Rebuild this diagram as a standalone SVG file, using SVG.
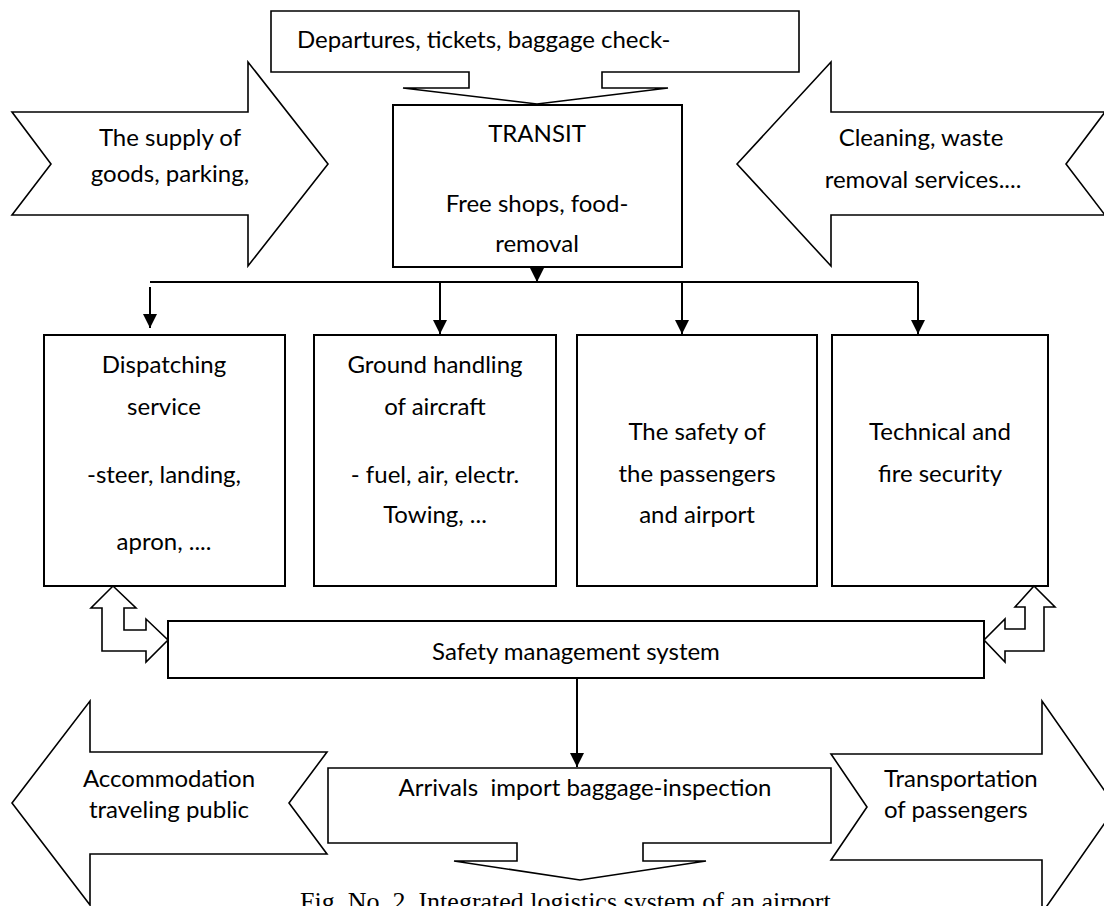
<svg xmlns="http://www.w3.org/2000/svg" width="1104" height="906" viewBox="0 0 1104 906">
<style>
.shape{fill:#fff;stroke:#000;stroke-width:1.6;stroke-linejoin:miter}
.box{fill:#fff;stroke:#000;stroke-width:2}
.t{font-family:Lato,"Liberation Sans",sans-serif;font-size:24px;fill:#000;text-anchor:middle}
.ts{font-family:Lato,"Liberation Sans",sans-serif;font-size:24px;fill:#000;text-anchor:start}
.cap{font-family:"Liberation Serif","Times New Roman",serif;font-size:26px;fill:#000}
.conn{fill:none;stroke:#000;stroke-width:2}
</style>
<defs>
<marker id="ah" markerUnits="userSpaceOnUse" markerWidth="14" markerHeight="14" viewBox="0 0 14 14" refX="14" refY="7" orient="auto">
<path d="M0,0 L14,7 L0,14 z" fill="#000"/>
</marker>
</defs>
<rect width="1104" height="906" fill="#fff"/>

<g id="supply">
<polygon class="shape" points="12,112 248,112 248,62 328,164 248,266 248,215 12,215 51,164"/>
<text class="t" x="170" y="146">The supply of</text>
<text class="t" x="170" y="182">goods, parking,</text>
</g>

<g id="cleaning">
<polygon class="shape" points="737,164 831,62 831,112 1105,112 1066,164 1105,215 831,215 831,266"/>
<text class="t" x="921" y="146">Cleaning, waste</text>
<text class="t" x="923" y="188">removal services....</text>
</g>

<g id="departures">
<polygon class="shape" points="271,11 799,11 799,72 602,72 602,88 668,88 537,104 403,88 469,88 469,72 271,72"/>
<text class="ts" x="297" y="48">Departures, tickets, baggage check-</text>
</g>

<g id="transit">
<rect class="box" x="393" y="105" width="289" height="162"/>
<text class="t" x="537" y="142">TRANSIT</text>
<text class="t" x="537" y="212">Free shops, food-</text>
<text class="t" x="537" y="252">removal</text>
</g>

<g id="dispatching">
<rect class="box" x="44" y="335" width="241" height="251"/>
<text class="t" x="164" y="373">Dispatching</text>
<text class="t" x="164" y="415">service</text>
<text class="t" x="164" y="483">-steer, landing,</text>
<text class="t" x="164" y="550">apron, ....</text>
</g>

<g id="ground">
<rect class="box" x="314" y="335" width="242" height="251"/>
<text class="t" x="435" y="373">Ground handling</text>
<text class="t" x="435" y="415">of aircraft</text>
<text class="t" x="435" y="483">- fuel, air, electr.</text>
<text class="t" x="435" y="523">Towing, ...</text>
</g>

<g id="safety-passengers">
<rect class="box" x="577" y="335" width="240" height="251"/>
<text class="t" x="697" y="440">The safety of</text>
<text class="t" x="697" y="482">the passengers</text>
<text class="t" x="697" y="523">and airport</text>
</g>

<g id="technical">
<rect class="box" x="832" y="335" width="216" height="251"/>
<text class="t" x="940" y="440">Technical and</text>
<text class="t" x="940" y="482">fire security</text>
</g>

<g id="sms">
<rect class="box" x="168" y="621" width="816" height="57"/>
<text class="t" x="576" y="660">Safety management system</text>
</g>

<g id="arrivals">
<polygon class="shape" points="328,768 831,768 831,843 643,843 643,861 706,861 580,880 454,861 517,861 517,843 328,843"/>
<text class="t" x="585" y="796" xml:space="preserve">Arrivals  import baggage-inspection</text>
</g>

<g id="accommodation">
<polygon class="shape" points="12,803 90,701 90,752 327,752 289,803 327,854 90,854 90,905"/>
<text class="t" x="169" y="787">Accommodation</text>
<text class="t" x="169" y="818">traveling public</text>
</g>

<g id="transportation">
<polygon class="shape" points="831,754 1042,754 1042,701 1116,807 1042,913 1042,860 831,860 867,807"/>
<text class="ts" x="884" y="787">Transportation</text>
<text class="ts" x="884" y="818">of passengers</text>
</g>

<g id="connectors">
<line class="conn" x1="537" y1="267" x2="537" y2="282" marker-end="url(#ah)"/>
<line class="conn" x1="150" y1="282" x2="918" y2="282"/>
<line class="conn" x1="150" y1="287" x2="150" y2="328" marker-end="url(#ah)"/>
<line class="conn" x1="440" y1="282" x2="440" y2="334" marker-end="url(#ah)"/>
<line class="conn" x1="682" y1="282" x2="682" y2="334" marker-end="url(#ah)"/>
<line class="conn" x1="918" y1="282" x2="918" y2="334" marker-end="url(#ah)"/>
<line class="conn" x1="577" y1="678" x2="577" y2="767" marker-end="url(#ah)"/>
<polygon class="shape" points="113,586 136,608 124,608 124,630 146,630 146,619 168,640 146,662 146,651 102,651 102,608 91,608"/>
<polygon class="shape" points="1034,586 1055,607 1044,607 1044,651 1005,651 1005,662 984,640 1005,619 1005,629 1025,629 1025,607 1015,607"/>
</g>

<text class="cap" x="300" y="910">Fig. No. 2. Integrated logistics system of an airport</text>
</svg>
